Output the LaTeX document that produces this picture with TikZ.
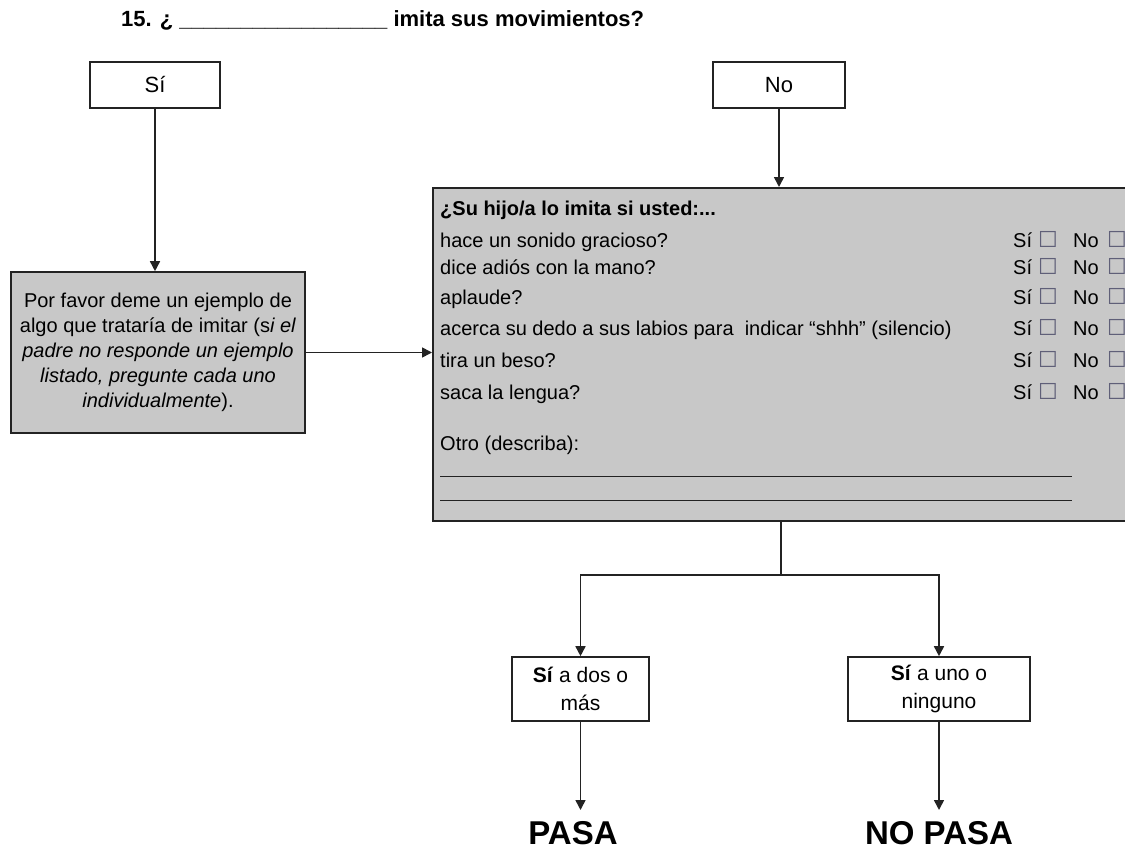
\documentclass[tikz,border=0pt]{standalone}
\usepackage{fontspec}
\setmainfont{Liberation Sans}
\newfontfamily\symfont{DejaVu Sans}
\usetikzlibrary{arrows.meta}
\definecolor{ink}{RGB}{35,35,35}
\definecolor{panel}{RGB}{200,200,200}
\definecolor{tick}{RGB}{95,95,120}
\newcommand{\chk}{{\symfont\fontsize{22}{22}\selectfont\color{tick}☐}}
\newcommand{\yesno}{\makebox[25pt][l]{Sí}\makebox[35pt][l]{\chk}\makebox[34pt][l]{No}\chk}
\begin{document}
\begin{tikzpicture}[x=1pt,y=-1pt,
  frame/.style={draw=ink, line width=1.6pt, inner sep=0pt},
  answer/.style={frame, fill=white, font=\fontsize{22}{26}\selectfont},
  grayframe/.style={frame, fill=panel},
  link/.style={draw=ink, line width=1.6pt},
  arr/.style={link, -{Triangle[width=10pt,length=10pt]}},
  row/.style={anchor=base west, inner sep=0pt, font=\fontsize{20}{24}\selectfont},
  yn/.style={anchor=base west, inner sep=0pt, font=\fontsize{20}{24}\selectfont},
  verdict/.style={anchor=north, inner sep=0pt, font=\fontsize{33}{36}\selectfont\bfseries}
]
\useasboundingbox (0,0) rectangle (1125,851);
\clip (0,0) rectangle (1125,851);

% question heading
\node[anchor=base west, inner sep=0pt, font=\fontsize{22}{26}\selectfont\bfseries] (title) at (121,27)
  {15. ¿ \_\_\_\_\_\_\_\_\_\_\_\_\_\_\_\_\_ imita sus movimientos?};

% first answer boxes
\node[answer, minimum width=130, minimum height=46] (si) at (155,85) {Sí};
\node[answer, minimum width=132, minimum height=46] (no) at (779,85) {No};

% example prompt
\node[grayframe, minimum width=294, minimum height=161, align=center,
      font=\fontsize{20}{25}\selectfont] (ej) at (158,352.5)
  {Por favor deme un ejemplo de\\
   algo que trataría de imitar (s\textit{i el}\\
   \textit{padre no responde un ejemplo}\\
   \textit{listado, pregunte cada uno}\\
   \textit{individualmente}).};

% checklist panel
\node[grayframe, anchor=north west, minimum width=700, minimum height=333] (q) at (432,187) {};
\node[row, font=\fontsize{20}{24}\selectfont\bfseries] (h) at (440,215) {¿Su hijo/a lo imita si usted:...};
\node[row] (r1) at (440,247) {hace un sonido gracioso?};
\node[row] (r2) at (440,274) {dice adiós con la mano?};
\node[row] (r3) at (440,304) {aplaude?};
\node[row] (r4) at (440,335) {acerca su dedo a sus labios para\ \ indicar “shhh” (silencio)};
\node[row] (r5) at (440,367) {tira un beso?};
\node[row] (r6) at (440,399) {saca la lengua?};
\node[yn] (m1) at (1013,247) {\yesno};
\node[yn] (m2) at (1013,274) {\yesno};
\node[yn] (m3) at (1013,304) {\yesno};
\node[yn] (m4) at (1013,335) {\yesno};
\node[yn] (m5) at (1013,367) {\yesno};
\node[yn] (m6) at (1013,399) {\yesno};
\node[row] (otro) at (440,450) {Otro (describa):};
\coordinate (l1a) at (440,476); \coordinate (l1b) at (1072,476);
\coordinate (l2a) at (440,500); \coordinate (l2b) at (1072,500);
\draw[ink, line width=1pt] (l1a) -- (l1b);
\draw[ink, line width=1pt] (l2a) -- (l2b);

% outcome boxes
\node[answer, minimum width=137, minimum height=64, align=center,
      font=\fontsize{21}{28}\selectfont] (dos) at (580.5,689) {\textbf{Sí} a dos o\\más};
\node[answer, minimum width=182, minimum height=64, align=center,
      font=\fontsize{21}{28}\selectfont] (uno) at (939,689) {\textbf{Sí} a uno o\\ninguno};
\node[verdict] (pasa) at (573,821) {PASA};
\node[verdict] (nopasa) at (939,821) {NO PASA};

% connectors
\coordinate (fork) at (781,575);
\draw[arr] (si.south) -- (si.south |- ej.north);
\draw[arr] (no.south) -- (no.south |- q.north);
\draw[arr] (ej.east) -- (ej.east -| q.west);
\draw[link] (q.south -| fork) -- (fork);
\draw[arr] (fork) -| (dos.north);
\draw[arr] (fork) -| (uno.north);
\draw[arr, shorten >=11pt] (dos.south) -- (dos.south |- pasa.north);
\draw[arr, shorten >=11pt] (uno.south) -- (uno.south |- nopasa.north);
\end{tikzpicture}
\end{document}
